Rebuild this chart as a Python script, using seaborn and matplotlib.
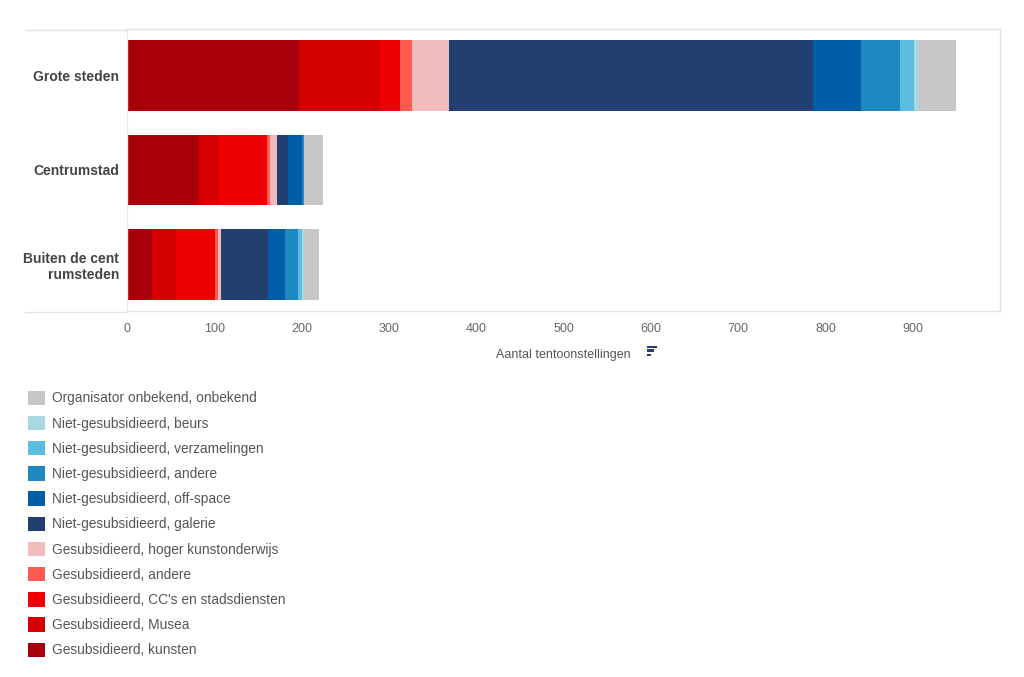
import matplotlib
matplotlib.use("Agg")
import matplotlib.pyplot as plt
import matplotlib.patches as mpatches
import matplotlib.lines as mlines
import seaborn as sns
import pandas as pd
import numpy as np

# regions (y categories)
regions = ["Grote steden", "Centrumstad", "Buiten de cent\nrumsteden"]

# exhibition types, in stacking order (left to right)
types = ["Gesubsidieerd, kunsten",
         "Gesubsidieerd, Musea",
         "Gesubsidieerd, CC's en stadsdiensten",
         "Gesubsidieerd, andere",
         "Gesubsidieerd, hoger kunstonderwijs",
         "Niet-gesubsidieerd, galerie",
         "Niet-gesubsidieerd, off-space",
         "Niet-gesubsidieerd, andere",
         "Niet-gesubsidieerd, verzamelingen",
         "Niet-gesubsidieerd, beurs",
         "Organisator onbekend, onbekend"]

colors = ["#a8000b", "#d40000", "#ee0000", "#ff5a50", "#f2bcbc",
          "#22406f", "#005ea8", "#1e88c0", "#5bbbe0", "#a8d8e0", "#c6c6c6"]

# values per region, same order as types
grote_steden = [197, 92, 23, 14, 43, 417, 55, 44, 17, 5, 43]
centrumstad = [82, 23, 55, 4, 8, 12, 16, 2, 1, 0, 21]
buiten = [28, 28, 44, 4, 3, 54, 20, 15, 4, 2, 18]

df = pd.DataFrame({regions[0]: grote_steden,
                   regions[1]: centrumstad,
                   regions[2]: buiten}, index=types)
cum = df.cumsum()

fig = plt.figure(figsize=(10.24, 6.77), dpi=100)
sns.set_style("white")
plt.rcParams['font.family'] = ['Liberation Sans', 'DejaVu Sans']
ax = fig.add_axes([127.3/1024, 1-311/677, (1000-127.3)/1024, (311-29)/677])

# draw cumulative totals from longest to shortest so they stack visually
for t, c in zip(reversed(types), reversed(colors)):
    d = pd.DataFrame({"region": regions, "value": cum.loc[t].values})
    sns.barplot(data=d, x="value", y="region", order=regions, color=c,
                saturation=1, width=0.75, linewidth=0, ax=ax)

ax.set_xlim(0, 1000)
ax.set_ylim(2.49, -0.49)
ax.set_xticks(np.arange(0, 1000, 100))
ax.set_ylabel("")
ax.set_xlabel("Aantal tentoonstellingen", fontsize=9, color="#555555", labelpad=10)
ax.tick_params(axis="x", length=5, color="#dddddd", labelsize=9,
               labelcolor="#666666", pad=4)
ax.tick_params(axis="y", length=0, pad=6)
for lab in ax.get_yticklabels():
    lab.set_fontweight("bold")
    lab.set_fontsize(10)
    lab.set_color("#444444")
    lab.set_multialignment("right")
    lab.set_linespacing(1.2)
for s in ax.spines.values():
    s.set_color("#e2e2e2")
    s.set_linewidth(1)
ax.spines["left"].set_color("#ececec")

# frame lines extending into the label area
for yy in (1-29.5/677, 1-311.5/677):
    fig.add_artist(mlines.Line2D([25/1024, 127.3/1024], [yy, yy],
                                 color="#e2e2e2", lw=1))

# small sort icon next to axis label
for k, w in enumerate([10, 7, 4]):
    fig.add_artist(mpatches.Rectangle((647/1024, 1-(348+k*4)/677), w/1024, 2.5/677,
                                      color="#22406f", lw=0))

handles = [mpatches.Patch(facecolor=c, edgecolor="none", label=t)
           for t, c in zip(types, colors)][::-1]
fig.legend(handles=handles, loc="upper left", bbox_to_anchor=(22/1024, 1-385/677),
           frameon=False, fontsize=9.9, handlelength=1.25, handleheight=1.25,
           labelspacing=0.75, handletextpad=0.5, labelcolor="#555555",
           borderaxespad=0)

fig.savefig("out.png", dpi=100)
